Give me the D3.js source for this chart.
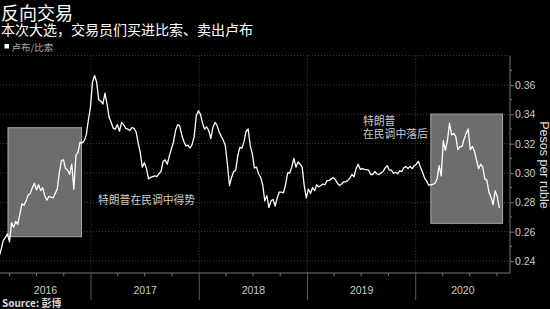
<!DOCTYPE html>
<html>
<head>
<meta charset="utf-8">
<script src="https://cdn.jsdelivr.net/npm/d3@7"></script>
<style>
  body { margin: 0; background: #000; }
  svg { display: block; }
</style>
</head>
<body>
<div id="chart-area"></div>
<script>
// ruble/peso, weekly closes (Fridays) from 2016-02-26
var rates2016 = [0.243, 0.248, 0.254, 0.256, 0.2585, 0.253, 0.266, 0.263, 0.267, 0.265,
    0.272, 0.279, 0.278, 0.281, 0.285, 0.286, 0.290, 0.293, 0.2885, 0.292,
    0.288, 0.290, 0.2845, 0.2815, 0.284, 0.2835, 0.283, 0.286, 0.289, 0.300,
    0.3085, 0.309, 0.303, 0.302, 0.299, 0.306, 0.289, 0.312, 0.314, 0.321,
    0.3205, 0.322, 0.326, 0.336, 0.345]
var rates2017 = [0.362, 0.3665, 0.362, 0.350, 0.349, 0.347, 0.3545, 0.347, 0.338, 0.3345,
    0.3305, 0.330, 0.333, 0.3285, 0.3345, 0.333, 0.3305, 0.330, 0.329, 0.331,
    0.3305, 0.328, 0.3205, 0.314, 0.304, 0.307, 0.303, 0.296, 0.297, 0.2975,
    0.298, 0.2975, 0.2995, 0.301, 0.308, 0.309, 0.306, 0.3115, 0.3165, 0.321,
    0.329, 0.333, 0.332, 0.326, 0.3215, 0.3185, 0.319, 0.317, 0.3195, 0.325,
    0.339, 0.3425]
var rates2018 = [0.340, 0.334, 0.330, 0.3315, 0.329, 0.3235, 0.331, 0.3345, 0.3325, 0.328,
    0.325, 0.3225, 0.3185, 0.306, 0.2915, 0.297, 0.301, 0.302, 0.312, 0.3175,
    0.317, 0.3215, 0.3285, 0.330, 0.3185, 0.313, 0.3035, 0.304, 0.2995, 0.297,
    0.292, 0.281, 0.2845, 0.2765, 0.281, 0.282, 0.2775, 0.283, 0.287, 0.287,
    0.2865, 0.292, 0.300, 0.300, 0.304, 0.310, 0.304, 0.3075, 0.306, 0.304,
    0.2915, 0.283]
var rates2019 = [0.289, 0.286, 0.290, 0.288, 0.292, 0.2905, 0.2915, 0.2925, 0.292, 0.2948,
    0.295, 0.296, 0.297, 0.2955, 0.293, 0.2915, 0.2925, 0.294, 0.294, 0.295,
    0.2965, 0.299, 0.2975, 0.303, 0.306, 0.3025, 0.303, 0.3025, 0.3023, 0.302,
    0.299, 0.299, 0.301, 0.2995, 0.299, 0.300, 0.301, 0.3035, 0.305, 0.302,
    0.302, 0.300, 0.3005, 0.2995, 0.3015, 0.301, 0.3035, 0.3045, 0.303, 0.3045,
    0.303, 0.305]
var rates2020 = [0.306, 0.308, 0.304, 0.3005, 0.2965, 0.2945, 0.2917, 0.292, 0.2922, 0.293,
    0.296, 0.305, 0.298, 0.322, 0.3155, 0.322, 0.334, 0.326, 0.327, 0.325,
    0.316, 0.318, 0.318, 0.323, 0.327, 0.330, 0.316, 0.318, 0.315, 0.309,
    0.303, 0.306, 0.304, 0.296, 0.295, 0.287, 0.2835, 0.2785, 0.288, 0.284,
    0.276]

var firstWeek = new Date(2016, 1, 26)
var years = [2016, 2017, 2018, 2019, 2020]
var yTicks = [0.24, 0.26, 0.28, 0.30, 0.32, 0.34, 0.36]
var yMinor = [0.25, 0.27, 0.29, 0.31, 0.33, 0.35, 0.37]

// shaded annotation periods
var boxes = [
    { from: new Date(2016, 2, 27), to: new Date(2016, 10, 30), lo: 0.2566, hi: 0.3309 },
    { from: new Date(2020, 1, 21), to: new Date(2020, 9, 20), lo: 0.2657, hi: 0.3402 }
]

var rates = rates2016.concat(rates2017, rates2018, rates2019, rates2020)
var data = rates.map((v, i) => ({ date: d3.timeDay.offset(firstWeek, i * 7), value: v }))

var W = 550, H = 309
var plot = { left: 0, right: 510, top: 55.7, bottom: 273 }

var svg = d3.select('#chart-area')
    .append('svg')
        .attr('width', W)
        .attr('height', H)
        .style('font-family', '"Noto Sans CJK SC", "Liberation Sans", sans-serif')

svg.append('rect').attr('width', W).attr('height', H).attr('fill', '#000')

var x = d3.scaleTime()
    .domain([new Date(2016, 1, 29), new Date(2020, 10, 14)])
    .range([plot.left, plot.right])

var y = d3.scaleLinear()
    .domain([0.23182, 0.38])
    .range([plot.bottom, plot.top])

// titles
svg.append('text')
    .attr('x', 1).attr('y', 20)
    .attr('fill', '#fff').attr('font-size', '18px')
    .text('反向交易')
svg.append('text')
    .attr('x', 1).attr('y', 34.5)
    .attr('fill', '#fff').attr('font-size', '14px')
    .text('本次大选，交易员们买进比索、卖出卢布')

// legend
svg.append('rect')
    .attr('x', 4.5).attr('y', 44).attr('width', 4.5).attr('height', 4.5)
    .attr('fill', '#fff')
svg.append('text')
    .attr('x', 11.5).attr('y', 50.5)
    .attr('fill', '#aaa').attr('font-size', '9.5px')
    .text('卢布/比索')

// horizontal gridlines
svg.append('g').selectAll('line')
    .data(yTicks.concat([0.38]))
    .enter().append('line')
        .attr('x1', plot.left).attr('x2', plot.right)
        .attr('y1', d => y(d)).attr('y2', d => y(d))
        .attr('stroke', '#555').attr('stroke-width', 0.8)
        .attr('stroke-dasharray', '1,2')

// year separators
var yearStarts = years.slice(1).map(yr => new Date(yr, 0, 1))
svg.append('g').selectAll('line')
    .data(yearStarts)
    .enter().append('line')
        .attr('x1', d => x(d)).attr('x2', d => x(d))
        .attr('y1', plot.top).attr('y2', plot.bottom)
        .attr('stroke', '#555').attr('stroke-width', 0.8)
        .attr('stroke-dasharray', '1,2')
svg.append('g').selectAll('line')
    .data(yearStarts)
    .enter().append('line')
        .attr('x1', d => x(d)).attr('x2', d => x(d))
        .attr('y1', plot.bottom).attr('y2', 300)
        .attr('stroke', '#5a5a5a').attr('stroke-width', 1)

// annotation boxes
svg.append('g').selectAll('rect')
    .data(boxes)
    .enter().append('rect')
        .attr('x', d => x(d.from))
        .attr('y', d => y(d.hi))
        .attr('width', d => x(d.to) - x(d.from))
        .attr('height', d => y(d.lo) - y(d.hi))
        .attr('fill', '#6d6d6d')
        .attr('stroke', '#aaa').attr('stroke-width', 1)

// line
var line = d3.line()
    .x(d => x(d.date))
    .y(d => y(d.value))

svg.append('path')
    .datum(data)
    .attr('fill', 'none')
    .attr('stroke', '#fff')
    .attr('stroke-width', 1.3)
    .attr('stroke-linejoin', 'round')
    .attr('d', line)

// annotation text
svg.append('text')
    .attr('x', 98).attr('y', 204)
    .attr('fill', '#ccc').attr('font-size', '10.8px')
    .text('特朗普在民调中得势')
svg.append('text')
    .attr('x', 363).attr('y', 125)
    .attr('fill', '#ccc').attr('font-size', '10.8px')
    .text('特朗普')
svg.append('text')
    .attr('x', 363).attr('y', 138)
    .attr('fill', '#ccc').attr('font-size', '10.8px')
    .text('在民调中落后')

// bottom axis
svg.append('line')
    .attr('x1', plot.left).attr('x2', plot.right)
    .attr('y1', plot.bottom).attr('y2', plot.bottom)
    .attr('stroke', '#777')
svg.append('g').selectAll('line')
    .data(d3.timeMonth.every(3).range(x.domain()[0], x.domain()[1]).filter(d => d.getMonth() !== 0))
    .enter().append('line')
        .attr('x1', d => x(d)).attr('x2', d => x(d))
        .attr('y1', plot.bottom).attr('y2', plot.bottom + 3)
        .attr('stroke', '#777')

svg.append('g').selectAll('text')
    .data(years)
    .enter().append('text')
        .attr('x', yr => {
            var a = Math.max(x(new Date(yr, 0, 1)), plot.left)
            var b = Math.min(x(new Date(yr + 1, 0, 1)), plot.right)
            return (a + b) / 2
        })
        .attr('y', 294)
        .attr('text-anchor', 'middle')
        .attr('fill', '#ccc')
        .attr('font-size', '10.5px')
        .attr('font-family', '"Liberation Sans", sans-serif')
        .text(yr => yr)

// right axis
var yAxis = svg.append('g')
    .attr('transform', `translate(${plot.right}, 0)`)
    .call(d3.axisRight(y).tickValues(yTicks).tickSize(4).tickPadding(1).tickFormat(d3.format('.2f')))
yAxis.select('.domain').attr('stroke', '#777').attr('d', `M0,${plot.top}V${plot.bottom}`)
yAxis.selectAll('.tick line').attr('stroke', '#777')
yAxis.selectAll('.tick text')
    .attr('fill', '#ccc')
    .attr('font-size', '10.5px')
    .attr('font-family', '"Liberation Sans", sans-serif')

svg.append('g').selectAll('line')
    .data(yMinor)
    .enter().append('line')
        .attr('x1', plot.right).attr('x2', plot.right + 2)
        .attr('y1', d => y(d)).attr('y2', d => y(d))
        .attr('stroke', '#777')

// y label
svg.append('text')
    .attr('transform', 'translate(543, 165) rotate(90)')
    .attr('text-anchor', 'middle')
    .attr('dominant-baseline', 'middle')
    .attr('fill', '#ddd')
    .attr('font-size', '12.5px')
    .attr('font-family', '"Liberation Sans", sans-serif')
    .text('Pesos per ruble')

// source
svg.append('text')
    .attr('x', 2).attr('y', 307)
    .attr('fill', '#ddd')
    .attr('font-size', '10px')
    .attr('font-weight', 'bold')
    .text('Source: 彭博')
</script>
</body>
</html>
